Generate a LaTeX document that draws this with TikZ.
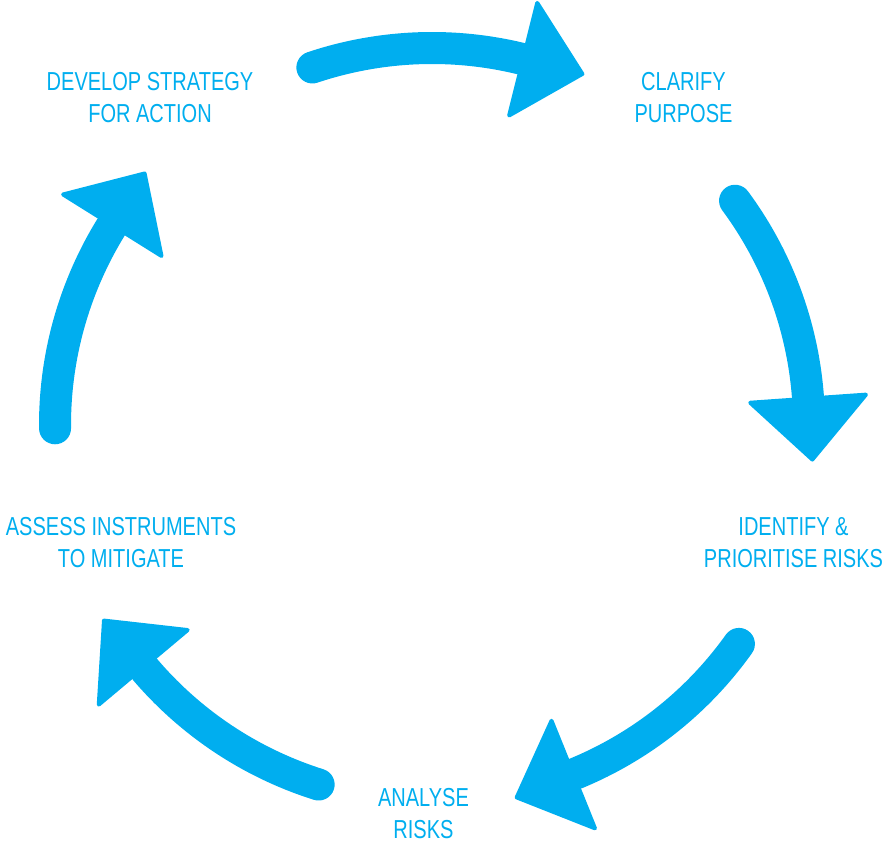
\documentclass[tikz,border=0pt]{standalone}
\usepackage{fontspec}
\setmainfont{Liberation Sans}[FakeStretch=0.77]
\usepackage{tikz}
\usetikzlibrary{positioning}
\usetikzlibrary{calc}
\definecolor{cyclecyan}{RGB}{0,174,239}

\begin{document}
\begin{tikzpicture}[
    x=1pt,y=1pt,
% Step label style
    steplabel/.style={text=cyclecyan,align=center,inner sep=0pt,
		font={\fontsize{26pt}{32pt}\selectfont}},
    shaft/.style={draw=cyclecyan,line width=32pt,line cap=round}
    ]

  \tikzstyle{head} = [fill=cyclecyan,draw=cyclecyan,line width=4pt,line join=round]

  \useasboundingbox (0,0) rectangle (885,843);
  \coordinate (c) at (432,418);

  \node (develop) at (150,745) [steplabel] {DEVELOP STRATEGY\\FOR ACTION};
  \node (clarify) at (683.5,745.5) [steplabel] {CLARIFY\\PURPOSE};
  \node (identify) at (793.5,300) [steplabel] {IDENTIFY \&\\PRIORITISE RISKS};
  \node (analyse) at (423.5,29) [steplabel] {ANALYSE\\RISKS};
  \node (assess) at (121,300) [steplabel] {ASSESS INSTRUMENTS\\TO MITIGATE};

  % one arrow between each pair of steps, clockwise
  \foreach \a in {108.5,36.5,-35.5,-107.5,-179.5} {
    \coordinate (start) at ($(c)+(\a:377)$);
    \coordinate (base) at ($(c)+(\a-32.5:377)$);
    \draw[shaft] (start) arc[start angle=\a, end angle=\a-32, radius=377];
    \filldraw[head] ($(c)+(\a-32.5:319)$) -- ($(c)+(\a-32.5:435)$)
      -- ($(base)+(\a-122.5:61)$) -- cycle;
  }

\end{tikzpicture}
\end{document}
